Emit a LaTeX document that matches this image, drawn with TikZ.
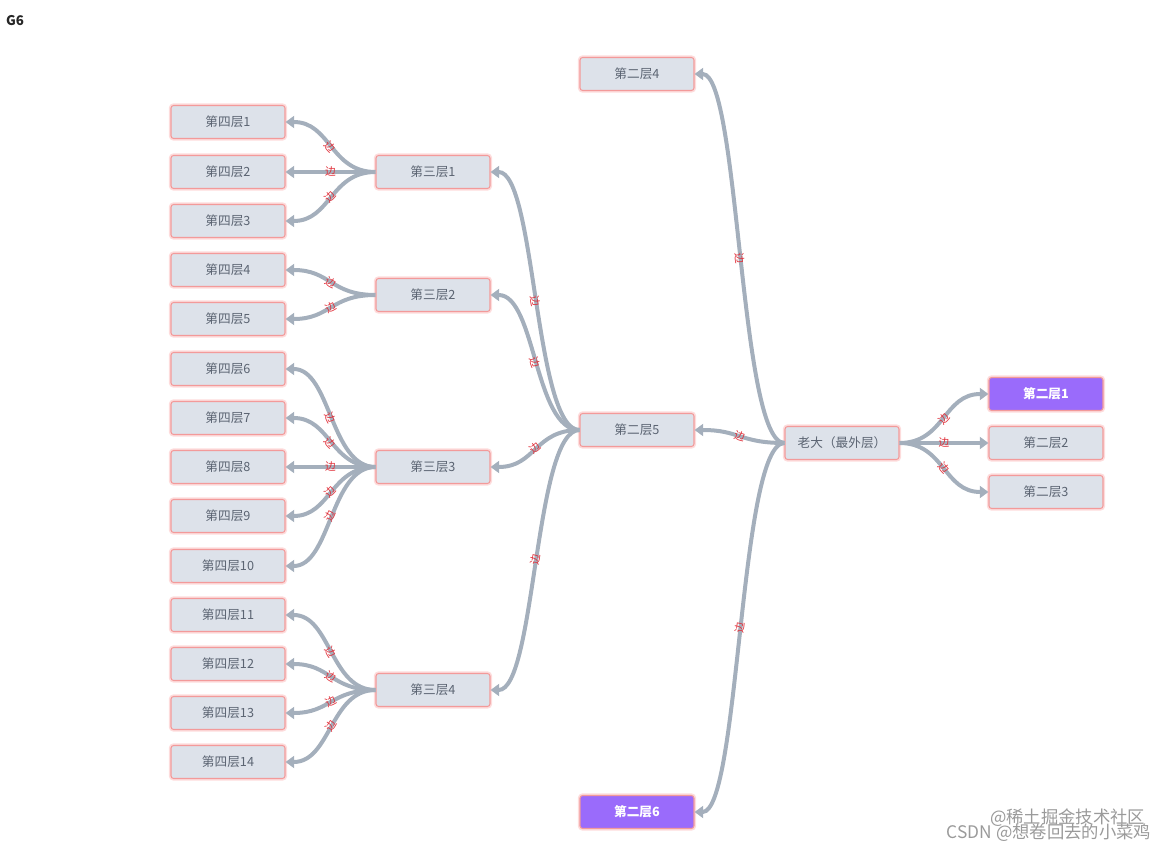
\documentclass[tikz,border=0pt]{standalone}
\usepackage{fontspec}
\setmainfont{Noto Sans CJK SC}
\usetikzlibrary{arrows.meta}
\definecolor{gsFill}{HTML}{DDE2EA}
\definecolor{gsRim}{HTML}{F39A9A}
\definecolor{gsGlow}{HTML}{FDDCDC}
\definecolor{gsText}{HTML}{5B6472}
\definecolor{gsPurple}{HTML}{9A6BFB}
\definecolor{gsEdge}{HTML}{A4AFBC}
\definecolor{gsRed}{HTML}{E0303A}
\definecolor{gsInk}{HTML}{262626}
\definecolor{gsMark}{HTML}{9A9A9A}

\begin{document}
\begin{tikzpicture}[x=0.75pt,y=-0.75pt,
  font=\fontsize{9.5}{10}\selectfont,
  box/.style={draw=gsRim,line width=0.8pt,fill=gsFill,rounded corners=2pt,
              minimum width=85.5pt,minimum height=24.75pt,inner sep=0pt,text=gsText,
              preaction={draw=gsGlow,line width=3.2pt}},
  hot/.style={box,fill=gsPurple,text=white,font=\fontsize{9.5}{10}\selectfont\bfseries},
  edge/.style={draw=gsEdge,line width=3pt,-{Triangle[length=6.5pt,width=9pt]}},
  elabel/.style={font=\fontsize{8}{8}\selectfont,text=gsRed,inner sep=0pt,sloped}
]
\useasboundingbox (0,0) rectangle (1172,852);

\node[font=\fontsize{10}{10}\selectfont\bfseries,text=gsInk] (title) at (15,21) {G6};

\node[box] (root) at (842,443) {老大（最外层）};

\node[hot] (sec1) at (1046,394) {第二层1};
\node[box] (sec2) at (1046,443) {第二层2};
\node[box] (sec3) at (1046,492) {第二层3};
\node[box] (sec4) at (637,74) {第二层4};
\node[box] (sec5) at (637,430) {第二层5};
\node[hot] (sec6) at (637,812) {第二层6};

\node[box] (thi1) at (433,172) {第三层1};
\node[box] (thi2) at (433,295) {第三层2};
\node[box] (thi3) at (433,467) {第三层3};
\node[box] (thi4) at (433,690) {第三层4};

\node[box] (fou1) at (228,122) {第四层1};
\node[box] (fou2) at (228,172) {第四层2};
\node[box] (fou3) at (228,221) {第四层3};
\node[box] (fou4) at (228,270) {第四层4};
\node[box] (fou5) at (228,319) {第四层5};
\node[box] (fou6) at (228,369) {第四层6};
\node[box] (fou7) at (228,418) {第四层7};
\node[box] (fou8) at (228,467) {第四层8};
\node[box] (fou9) at (228,516) {第四层9};
\node[box] (fou10) at (228,566) {第四层10};
\node[box] (fou11) at (228,615) {第四层11};
\node[box] (fou12) at (228,664) {第四层12};
\node[box] (fou13) at (228,713) {第四层13};
\node[box] (fou14) at (228,762) {第四层14};

\draw[edge] (root.east) .. controls +(45,0) and +(-45,0) .. node[elabel]{边} (sec1.west);
\draw[edge] (root.east) .. controls +(45,0) and +(-45,0) .. node[elabel]{边} (sec2.west);
\draw[edge] (root.east) .. controls +(45,0) and +(-45,0) .. node[elabel]{边} (sec3.west);
\draw[edge] (root.west) .. controls +(-45,0) and +(45,0) .. node[elabel]{边} (sec4.east);
\draw[edge] (root.west) .. controls +(-45,0) and +(45,0) .. node[elabel]{边} (sec5.east);
\draw[edge] (root.west) .. controls +(-45,0) and +(45,0) .. node[elabel]{边} (sec6.east);

\draw[edge] (sec5.west) .. controls +(-45,0) and +(45,0) .. node[elabel]{边} (thi1.east);
\draw[edge] (sec5.west) .. controls +(-45,0) and +(45,0) .. node[elabel]{边} (thi2.east);
\draw[edge] (sec5.west) .. controls +(-45,0) and +(45,0) .. node[elabel]{边} (thi3.east);
\draw[edge] (sec5.west) .. controls +(-45,0) and +(45,0) .. node[elabel]{边} (thi4.east);

\draw[edge] (thi1.west) .. controls +(-45,0) and +(45,0) .. node[elabel]{边} (fou1.east);
\draw[edge] (thi1.west) .. controls +(-45,0) and +(45,0) .. node[elabel]{边} (fou2.east);
\draw[edge] (thi1.west) .. controls +(-45,0) and +(45,0) .. node[elabel]{边} (fou3.east);
\draw[edge] (thi2.west) .. controls +(-45,0) and +(45,0) .. node[elabel]{边} (fou4.east);
\draw[edge] (thi2.west) .. controls +(-45,0) and +(45,0) .. node[elabel]{边} (fou5.east);
\draw[edge] (thi3.west) .. controls +(-45,0) and +(45,0) .. node[elabel]{边} (fou6.east);
\draw[edge] (thi3.west) .. controls +(-45,0) and +(45,0) .. node[elabel]{边} (fou7.east);
\draw[edge] (thi3.west) .. controls +(-45,0) and +(45,0) .. node[elabel]{边} (fou8.east);
\draw[edge] (thi3.west) .. controls +(-45,0) and +(45,0) .. node[elabel]{边} (fou9.east);
\draw[edge] (thi3.west) .. controls +(-45,0) and +(45,0) .. node[elabel]{边} (fou10.east);
\draw[edge] (thi4.west) .. controls +(-45,0) and +(45,0) .. node[elabel]{边} (fou11.east);
\draw[edge] (thi4.west) .. controls +(-45,0) and +(45,0) .. node[elabel]{边} (fou12.east);
\draw[edge] (thi4.west) .. controls +(-45,0) and +(45,0) .. node[elabel]{边} (fou13.east);
\draw[edge] (thi4.west) .. controls +(-45,0) and +(45,0) .. node[elabel]{边} (fou14.east);

\node[font=\fontsize{13}{13}\selectfont,text=gsMark,anchor=east] (markone) at (1150,818) {@稀土掘金技术社区};
\node[font=\fontsize{13}{13}\selectfont,text=gsMark,anchor=east] (marktwo) at (1156,833) {CSDN @想卷回去的小菜鸡};
\end{tikzpicture}
\end{document}
